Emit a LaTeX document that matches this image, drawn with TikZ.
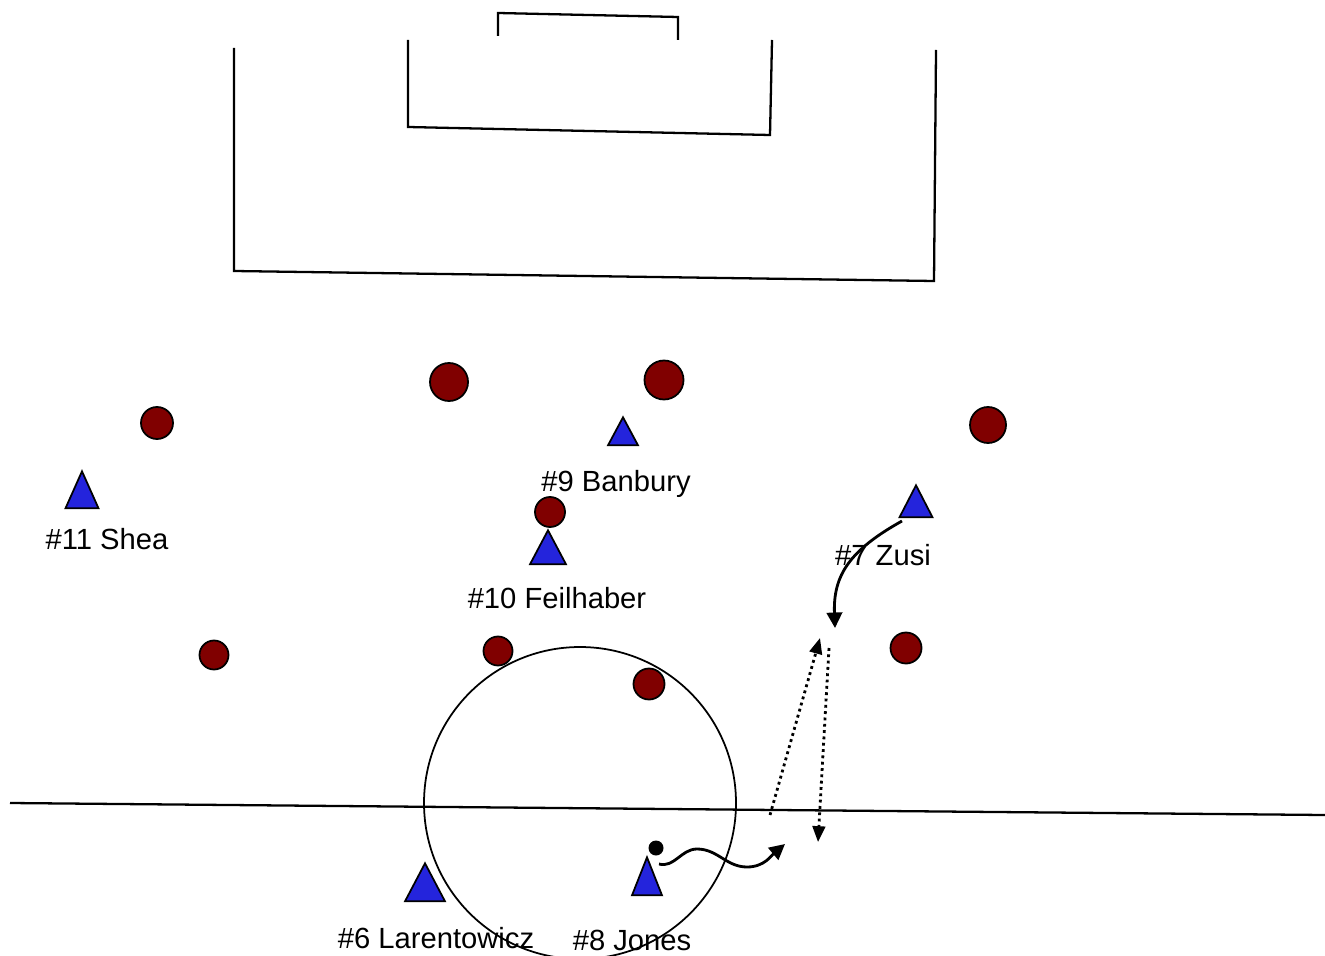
\documentclass[tikz,border=0pt]{standalone}
\usepackage{fontspec}
\setmainfont{Liberation Sans}
\usetikzlibrary{arrows.meta,shapes.geometric}
\definecolor{Maroon}{HTML}{800000}
\definecolor{Blue}{HTML}{2424DC}

\begin{document}
\begin{tikzpicture}[x=0.01cm,y=-0.01cm,font=\fontsize{8.3}{10}\selectfont,
    pitch/.style={line width=0.65pt},
    def/.style={circle,draw,fill=Maroon,inner sep=0pt,line width=0.5pt},
    att/.style={isosceles triangle,isosceles triangle stretches,shape border rotate=90,
      draw,fill=Blue,inner sep=0pt,minimum width=0.33cm,minimum height=0.37cm,
      line width=0.5pt,anchor=apex},
    lbl/.style={anchor=base,inner sep=0pt},
    run/.style={-{Triangle[length=4.4pt,width=4.4pt]},line width=0.8pt},
    pass/.style={-{Triangle[length=4.5pt,width=3.6pt]},densely dotted,line width=0.8pt}]
  \useasboundingbox (0,0) rectangle (1325,955);
  \clip (0,0) rectangle (1325,955);
  % pitch
  \draw[pitch] (234,48) -- (234,271) -- (934,281) -- (936,50);
  \draw[pitch] (408,40) -- (408,127) -- (770,135) -- (772,40);
  \draw[pitch] (498,36) -- (498,13) -- (678,17) -- (678,40);
  \draw[pitch] (10,803) -- (1325,815);
  \draw[line width=0.5pt] (580,803) circle[radius=156];
  % defenders
  \node[def,minimum size=0.38cm] (d1) at (449,382) {};
  \node[def,minimum size=0.39cm] (d2) at (664,380) {};
  \node[def,minimum size=0.32cm] (d3) at (157,423) {};
  \node[def,minimum size=0.36cm] (d4) at (988,425) {};
  \node[def,minimum size=0.30cm] (d5) at (550,512) {};
  \node[def,minimum size=0.29cm] (d6) at (214,655) {};
  \node[def,minimum size=0.29cm] (d7) at (498,651) {};
  \node[def,minimum size=0.31cm] (d8) at (649,684) {};
  \node[def,minimum size=0.31cm] (d9) at (906,648) {};
  % attackers
  \node[att] (shea) at (82,469) {};
  \node[att,minimum width=0.30cm,minimum height=0.28cm] (banbury) at (623,415) {};
  \node[att,minimum width=0.36cm,minimum height=0.34cm] (feilhaber) at (548,528) {};
  \node[att,minimum width=0.33cm,minimum height=0.32cm] (zusi) at (916,483) {};
  \node[att,minimum width=0.40cm,minimum height=0.38cm] (larentowicz) at (425,861) {};
  \node[att,minimum width=0.30cm,minimum height=0.38cm] (jones) at (647,855) {};
  \node[circle,fill=black,inner sep=0pt,minimum size=0.15cm] (ball) at (656,848) {};
  % names
  \node[lbl] (sheaL) at (107,549) {\#11 Shea};
  \node[lbl] (banburyL) at (616,491) {\#9 Banbury};
  \node[lbl] (feilhaberL) at (557,608) {\#10 Feilhaber};
  \node[lbl] (zusiL) at (883,565) {\#7 Zusi};
  \node[lbl] (larentowiczL) at (436,948) {\#6 Larentowicz};
  \node[lbl] (jonesL) at (632,950) {\#8 Jones};
  % runs and passes
  \coordinate (zusiS) at (902,521);
  \coordinate (zusiE) at (835,628);
  \coordinate (p1S) at (770,815);
  \coordinate (p1E) at (820,638);
  \coordinate (p2S) at (829,648);
  \coordinate (p2E) at (818,842);
  \coordinate (dribS) at (659,864);
  \coordinate (dribE) at (785,844);
  \draw[run] (zusiS) .. controls (850,550) and (833,575) .. (zusiE);
  \draw[pass] (p1S) -- (p1E);
  \draw[pass] (p2S) -- (p2E);
  \draw[run] (dribS) to[out=-15,in=180] (697,849) to[out=0,in=180] (747,867)
    to[out=0,in=-140] (dribE);
\end{tikzpicture}
\end{document}
